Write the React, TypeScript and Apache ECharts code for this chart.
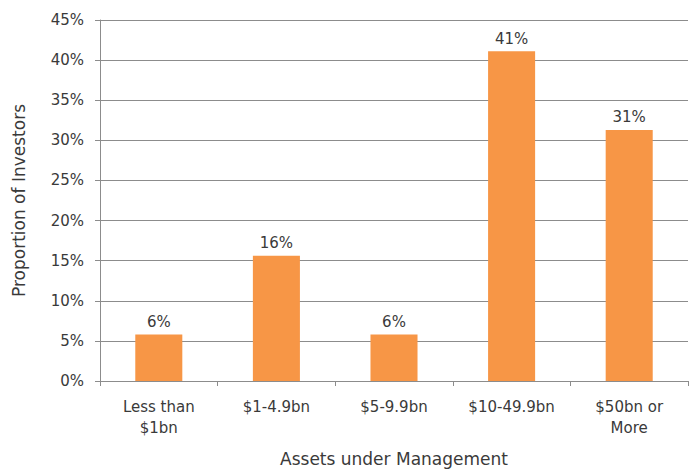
import React, { useEffect, useRef } from "react";
import * as echarts from "echarts";

const categories = ["Less than\n$1bn", "$1-4.9bn", "$5-9.9bn", "$10-49.9bn", "$50bn or\nMore"];
const proportions = [5.8, 15.6, 5.8, 41.1, 31.3];
const yTicks = { min: 0, max: 45, interval: 5 };
const xName = "Assets under Management";
const yName = "Proportion of Investors";

const FONT = "'DejaVu Sans', 'Liberation Sans', sans-serif";
const TEXT = "#3a3a3a";

export default function App() {
  const ref = useRef<HTMLDivElement>(null);
  useEffect(() => {
    if (!ref.current) return;
    const chart = echarts.init(ref.current, undefined, { renderer: "svg" });
    chart.setOption({
      animation: false,
      textStyle: { fontFamily: FONT },
      grid: { left: 100, right: 8, top: 20, bottom: 88, containLabel: false },
      xAxis: {
        type: "category",
        data: categories,
        name: xName,
        nameLocation: "middle",
        nameGap: 69,
        nameTextStyle: { fontSize: 17, color: TEXT, fontFamily: FONT },
        axisLine: { show: true, lineStyle: { color: "#8c8c8c", width: 1 } },
        axisTick: { show: true, alignWithLabel: false, length: 5, lineStyle: { color: "#8c8c8c" } },
        axisLabel: { fontSize: 15, color: TEXT, fontFamily: FONT, margin: 15, lineHeight: 21, interval: 0 },
      },
      yAxis: {
        type: "value",
        min: yTicks.min,
        max: yTicks.max,
        interval: yTicks.interval,
        name: yName,
        nameLocation: "middle",
        nameGap: 73,
        nameTextStyle: { fontSize: 17, color: TEXT, fontFamily: FONT },
        axisLine: { show: true, lineStyle: { color: "#8c8c8c", width: 1 } },
        axisTick: { show: true, length: 5, lineStyle: { color: "#8c8c8c" } },
        axisLabel: { fontSize: 15, color: TEXT, fontFamily: FONT, margin: 16, formatter: (v: number) => `${v}%` },
        splitLine: { show: true, lineStyle: { color: "#8c8c8c", width: 1 } },
      },
      series: [
        {
          type: "bar",
          data: proportions,
          barWidth: "40%",
          itemStyle: { color: "#F79646" },
          label: {
            show: true,
            position: "top",
            distance: 5,
            fontSize: 15,
            color: TEXT,
            fontFamily: FONT,
            formatter: (p: any) => `${Math.round(p.value)}%`,
          },
        },
      ],
    });
    return () => chart.dispose();
  }, []);
  return <div ref={ref} style={{ width: 696, height: 472, position: "absolute", left: 0, top: 0, background: "#fff" }} />;
}
